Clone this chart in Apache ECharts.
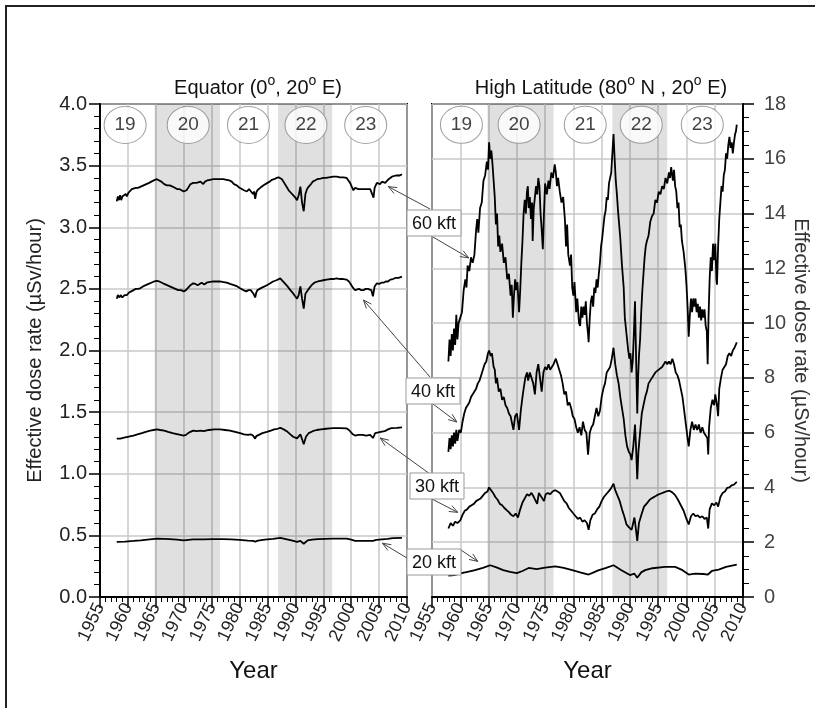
<!DOCTYPE html>
<html><head><meta charset="utf-8">
<script src="https://cdn.jsdelivr.net/npm/echarts@6/dist/echarts.min.js"></script>
<style>html,body{margin:0;padding:0;background:#fff}#c{width:815px;height:708px}</style>
</head><body><div id="c"></div>
<script>
// ---------------- DATA ----------------
const altitudeLabels = ['60 kft', '40 kft', '30 kft', '20 kft'];
const cycleNames = ['19', '20', '21', '22', '23'];
const eqCycleYears = [1959.5, 1970.8, 1981.6, 1991.9, 2002.6];
const hlCycleYears = [1960.2, 1970.4, 1982.1, 1992.0, 2002.8];
const cycleLevel = [3.83, 17.24];
const solarMaxBands = [[1964.8, 1976.5], [1986.9, 1996.6]];

const eq60 = [[1958.0,3.21],[1958.2,3.25],[1958.4,3.22],[1958.6,3.26],[1958.8,3.22],[1959.0,3.25],[1959.3,3.24],[1959.6,3.27],[1959.8,3.25],[1960.1,3.28],[1960.4,3.29],[1960.7,3.31],[1961.0,3.3],[1961.4,3.32],[1961.8,3.32],[1962.3,3.33],[1962.8,3.34],[1963.3,3.35],[1963.8,3.36],[1964.2,3.37],[1964.6,3.38],[1965.2,3.39],[1965.6,3.38],[1966.0,3.37],[1966.5,3.35],[1967.0,3.34],[1967.5,3.34],[1968.0,3.33],[1968.4,3.32],[1968.8,3.31],[1969.2,3.31],[1969.6,3.3],[1970.0,3.29],[1970.2,3.28],[1970.5,3.3],[1970.8,3.32],[1971.2,3.35],[1971.7,3.36],[1972.0,3.35],[1972.3,3.36],[1972.6,3.35],[1973.0,3.37],[1973.3,3.36],[1973.5,3.35],[1973.8,3.37],[1974.2,3.38],[1974.7,3.385],[1975.3,3.39],[1975.9,3.39],[1976.5,3.39],[1977.1,3.39],[1977.7,3.385],[1978.2,3.38],[1978.6,3.37],[1979.0,3.35],[1979.5,3.34],[1980.0,3.32],[1980.4,3.31],[1980.8,3.3],[1981.3,3.29],[1981.7,3.31],[1982.0,3.3],[1982.4,3.27],[1982.6,3.29],[1982.8,3.23],[1983.0,3.28],[1983.2,3.3],[1983.7,3.32],[1984.3,3.34],[1984.6,3.35],[1985.0,3.36],[1985.4,3.37],[1985.8,3.385],[1986.2,3.39],[1986.6,3.4],[1987.0,3.405],[1987.3,3.41],[1987.6,3.39],[1988.0,3.36],[1988.4,3.33],[1988.8,3.3],[1989.2,3.28],[1989.6,3.26],[1990.0,3.24],[1990.3,3.22],[1990.6,3.26],[1990.9,3.33],[1991.2,3.2],[1991.5,3.13],[1991.8,3.27],[1992.1,3.31],[1992.4,3.33],[1992.8,3.35],[1993.1,3.37],[1993.5,3.38],[1993.9,3.39],[1994.5,3.395],[1995.0,3.4],[1995.5,3.4],[1996.0,3.405],[1996.8,3.41],[1997.4,3.41],[1998.0,3.405],[1998.6,3.405],[1999.2,3.4],[1999.5,3.38],[1999.8,3.36],[2000.1,3.33],[2000.4,3.3],[2000.7,3.32],[2001.0,3.32],[2001.3,3.31],[2001.6,3.32],[2001.9,3.31],[2002.2,3.32],[2002.6,3.31],[2003.0,3.31],[2003.4,3.31],[2003.7,3.3],[2004.0,3.24],[2004.2,3.32],[2004.4,3.34],[2004.6,3.36],[2004.9,3.35],[2005.2,3.35],[2005.5,3.37],[2005.8,3.37],[2006.1,3.36],[2006.4,3.37],[2006.7,3.39],[2007.0,3.4],[2007.3,3.41],[2007.6,3.41],[2008.0,3.42],[2008.3,3.42],[2008.7,3.42],[2009.1,3.43]];
const eq40 = [[1958.0,2.42],[1958.2,2.45],[1958.5,2.43],[1958.7,2.45],[1959.0,2.43],[1959.4,2.45],[1959.8,2.45],[1960.2,2.47],[1960.6,2.48],[1961.0,2.49],[1961.4,2.5],[1961.8,2.5],[1962.2,2.505],[1962.7,2.52],[1963.2,2.53],[1963.7,2.54],[1964.2,2.55],[1964.7,2.56],[1965.2,2.565],[1965.6,2.56],[1966.1,2.55],[1966.5,2.54],[1967.0,2.53],[1967.5,2.52],[1968.0,2.51],[1968.5,2.5],[1969.0,2.49],[1969.5,2.49],[1970.0,2.48],[1970.4,2.49],[1970.8,2.51],[1971.2,2.53],[1971.7,2.545],[1972.1,2.54],[1972.5,2.53],[1972.8,2.545],[1973.2,2.55],[1973.7,2.535],[1974.1,2.55],[1974.5,2.555],[1975.3,2.56],[1975.9,2.56],[1976.5,2.56],[1977.1,2.555],[1977.7,2.55],[1978.3,2.54],[1979.0,2.53],[1979.6,2.52],[1980.1,2.505],[1980.7,2.49],[1981.2,2.48],[1981.6,2.49],[1982.0,2.49],[1982.5,2.46],[1982.8,2.43],[1983.0,2.47],[1983.2,2.49],[1983.6,2.5],[1984.0,2.51],[1984.5,2.52],[1984.9,2.53],[1985.5,2.545],[1986.0,2.56],[1986.6,2.57],[1987.3,2.585],[1987.7,2.565],[1988.2,2.54],[1988.6,2.52],[1989.1,2.49],[1989.5,2.47],[1989.8,2.45],[1990.3,2.42],[1990.6,2.45],[1990.9,2.52],[1991.2,2.42],[1991.5,2.34],[1991.8,2.46],[1992.1,2.48],[1992.4,2.5],[1992.9,2.53],[1993.4,2.55],[1994.0,2.56],[1994.5,2.565],[1995.0,2.57],[1995.6,2.575],[1996.2,2.58],[1996.8,2.58],[1997.4,2.585],[1998.0,2.58],[1998.6,2.58],[1999.2,2.575],[1999.6,2.56],[1999.9,2.54],[2000.3,2.51],[2000.7,2.49],[2001.0,2.5],[2001.4,2.5],[2001.8,2.49],[2002.2,2.49],[2002.6,2.5],[2003.0,2.5],[2003.3,2.49],[2003.6,2.49],[2003.9,2.44],[2004.2,2.52],[2004.6,2.545],[2005.0,2.54],[2005.4,2.55],[2005.8,2.55],[2006.2,2.56],[2006.6,2.56],[2007.0,2.575],[2007.5,2.58],[2008.0,2.59],[2008.5,2.59],[2009.1,2.6]];
const eq30 = [[1958.0,1.285],[1958.3,1.295],[1958.6,1.285],[1959.0,1.29],[1959.5,1.295],[1960.0,1.3],[1960.5,1.305],[1961.0,1.31],[1961.7,1.32],[1962.5,1.33],[1963.2,1.34],[1964.0,1.35],[1964.6,1.355],[1965.2,1.36],[1965.8,1.355],[1966.5,1.35],[1967.2,1.34],[1968.0,1.33],[1969.0,1.32],[1970.0,1.31],[1970.4,1.315],[1970.8,1.33],[1971.2,1.34],[1971.7,1.35],[1972.3,1.345],[1973.0,1.35],[1973.6,1.345],[1974.5,1.355],[1975.5,1.36],[1976.5,1.36],[1977.4,1.355],[1978.3,1.35],[1979.2,1.34],[1980.1,1.33],[1980.8,1.32],[1981.5,1.315],[1982.0,1.32],[1982.4,1.31],[1982.8,1.285],[1983.0,1.305],[1983.3,1.32],[1984.1,1.33],[1984.9,1.34],[1985.6,1.35],[1986.2,1.36],[1986.8,1.365],[1987.3,1.373],[1987.9,1.36],[1988.6,1.34],[1989.1,1.32],[1989.6,1.3],[1990.3,1.287],[1990.6,1.3],[1990.9,1.32],[1991.2,1.28],[1991.5,1.24],[1991.9,1.3],[1992.4,1.33],[1993.1,1.345],[1993.8,1.355],[1994.6,1.36],[1995.5,1.365],[1996.2,1.368],[1996.8,1.37],[1998.0,1.37],[1999.2,1.368],[1999.6,1.355],[1999.9,1.34],[2000.3,1.32],[2000.7,1.31],[2001.3,1.315],[2002.0,1.315],[2002.7,1.31],[2003.4,1.315],[2003.9,1.29],[2004.3,1.33],[2004.6,1.34],[2005.3,1.34],[2006.0,1.345],[2006.6,1.36],[2007.2,1.37],[2008.2,1.372],[2009.1,1.376]];
const eq20 = [[1958.0,0.447],[1959.5,0.45],[1961.0,0.455],[1962.3,0.46],[1963.5,0.466],[1965.2,0.474],[1966.4,0.472],[1967.5,0.47],[1968.8,0.465],[1970.0,0.46],[1971.7,0.468],[1973.5,0.468],[1975.3,0.47],[1977.0,0.47],[1978.5,0.468],[1980.0,0.463],[1981.5,0.458],[1982.4,0.456],[1982.8,0.45],[1983.3,0.458],[1984.5,0.465],[1986.0,0.472],[1987.3,0.48],[1988.3,0.47],[1989.3,0.46],[1990.3,0.447],[1990.9,0.455],[1991.5,0.432],[1992.2,0.46],[1993.0,0.466],[1994.0,0.47],[1995.4,0.472],[1996.8,0.474],[1998.0,0.474],[1999.2,0.473],[2000.0,0.465],[2000.7,0.455],[2002.3,0.456],[2003.9,0.455],[2004.5,0.463],[2005.5,0.468],[2006.5,0.472],[2007.5,0.477],[2009.1,0.48]];

const hl60 = [[1957.9,8.6],[1958.1,9.4],[1958.3,8.8],[1958.5,9.6],[1958.7,9.0],[1958.9,9.8],[1959.1,9.2],[1959.3,10.3],[1959.5,9.4],[1959.7,10.0],[1960.0,10.2],[1960.3,10.4],[1960.6,11.2],[1960.9,11.6],[1961.1,11.3],[1961.3,12.1],[1961.6,11.9],[1961.9,12.4],[1962.2,12.2],[1962.5,12.5],[1962.8,13.4],[1963.0,13.8],[1963.2,13.3],[1963.5,14.2],[1963.8,14.4],[1964.1,15.2],[1964.4,15.4],[1964.7,15.9],[1964.9,15.6],[1965.1,16.6],[1965.3,16.0],[1965.5,16.3],[1965.7,15.8],[1965.9,15.2],[1966.1,14.6],[1966.3,13.6],[1966.5,14.0],[1966.7,12.8],[1966.9,13.2],[1967.1,12.6],[1967.4,12.9],[1967.7,12.2],[1968.0,12.4],[1968.3,11.6],[1968.6,11.8],[1968.9,11.0],[1969.1,11.4],[1969.3,10.2],[1969.5,11.0],[1969.7,11.6],[1969.9,11.2],[1970.1,11.5],[1970.4,10.4],[1970.6,11.2],[1970.8,12.2],[1971.0,13.0],[1971.2,14.0],[1971.4,14.5],[1971.6,14.0],[1971.8,14.8],[1971.95,15.0],[1972.1,14.2],[1972.3,14.6],[1972.5,13.8],[1972.7,14.4],[1972.8,13.0],[1973.0,14.2],[1973.2,14.6],[1973.4,15.0],[1973.6,14.7],[1973.8,15.3],[1974.0,15.0],[1974.2,14.0],[1974.4,13.4],[1974.6,12.7],[1974.8,14.0],[1975.0,15.1],[1975.3,14.7],[1975.6,15.2],[1975.8,14.9],[1976.1,15.5],[1976.4,15.3],[1976.7,15.8],[1976.9,15.5],[1977.1,15.0],[1977.3,15.3],[1977.6,14.8],[1977.9,14.4],[1978.2,14.6],[1978.5,13.8],[1978.7,12.8],[1978.9,13.6],[1979.1,12.5],[1979.4,12.1],[1979.6,12.5],[1979.8,11.3],[1980.0,11.0],[1980.2,11.5],[1980.5,10.4],[1980.7,10.9],[1981.0,10.0],[1981.2,9.9],[1981.4,10.6],[1981.6,10.2],[1981.8,10.6],[1982.0,10.3],[1982.2,10.8],[1982.4,10.0],[1982.6,9.6],[1982.7,9.3],[1982.9,10.2],[1983.1,10.8],[1983.3,11.0],[1983.5,10.6],[1983.7,11.3],[1983.9,11.1],[1984.1,11.6],[1984.3,11.3],[1984.5,11.8],[1984.7,12.2],[1984.9,12.8],[1985.1,13.1],[1985.3,13.5],[1985.5,13.9],[1985.7,14.1],[1985.9,14.6],[1986.1,14.5],[1986.3,15.1],[1986.5,15.3],[1986.7,15.5],[1986.9,16.2],[1987.1,16.9],[1987.3,16.0],[1987.5,15.2],[1987.7,14.7],[1987.9,14.1],[1988.1,13.6],[1988.3,13.1],[1988.6,12.1],[1988.9,11.3],[1989.1,10.2],[1989.4,9.6],[1989.7,9.0],[1989.9,8.7],[1990.1,8.9],[1990.3,8.2],[1990.5,8.6],[1990.7,9.6],[1990.9,10.8],[1991.05,9.2],[1991.2,7.6],[1991.3,6.7],[1991.45,8.0],[1991.6,8.8],[1991.8,9.4],[1992.0,10.4],[1992.2,11.2],[1992.4,11.8],[1992.6,12.4],[1992.8,12.8],[1993.0,13.0],[1993.3,13.2],[1993.6,13.7],[1993.9,13.9],[1994.2,14.0],[1994.5,14.5],[1994.8,14.4],[1995.1,14.8],[1995.4,14.7],[1995.7,15.0],[1996.0,14.9],[1996.3,15.3],[1996.6,15.1],[1996.9,15.5],[1997.1,15.3],[1997.3,15.7],[1997.6,15.2],[1997.8,15.6],[1998.0,15.0],[1998.2,14.8],[1998.4,14.2],[1998.6,14.4],[1998.8,13.5],[1999.0,13.6],[1999.2,13.0],[1999.5,12.6],[1999.8,12.0],[2000.0,11.4],[2000.2,10.6],[2000.4,9.5],[2000.6,10.3],[2000.8,10.9],[2001.0,10.4],[2001.2,10.9],[2001.4,10.6],[2001.6,10.9],[2001.8,10.4],[2002.0,10.7],[2002.2,10.2],[2002.4,10.6],[2002.6,10.1],[2002.8,10.5],[2003.0,10.2],[2003.2,10.5],[2003.4,9.9],[2003.6,9.7],[2003.75,8.5],[2003.9,10.2],[2004.1,11.6],[2004.3,12.4],[2004.5,11.9],[2004.7,12.9],[2004.9,12.3],[2005.1,12.9],[2005.3,11.6],[2005.4,11.4],[2005.6,12.8],[2005.8,13.8],[2006.0,14.4],[2006.2,15.0],[2006.4,14.8],[2006.6,15.4],[2006.8,15.6],[2007.0,16.2],[2007.2,16.0],[2007.4,16.5],[2007.6,16.8],[2007.8,16.4],[2008.0,16.6],[2008.2,16.2],[2008.4,16.6],[2008.6,16.9],[2008.75,17.0],[2008.9,17.25]];
const hl40 = [[1957.9,5.3],[1958.1,5.8],[1958.3,5.4],[1958.5,5.9],[1958.7,5.5],[1958.9,6.0],[1959.1,5.6],[1959.3,6.1],[1959.5,5.7],[1959.8,6.1],[1960.1,6.0],[1960.4,6.4],[1960.7,6.7],[1961.0,6.9],[1961.3,7.0],[1961.6,7.1],[1961.9,7.3],[1962.2,7.3],[1962.5,7.5],[1962.8,7.6],[1963.1,7.8],[1963.4,7.9],[1963.7,8.1],[1964.0,8.3],[1964.3,8.5],[1964.6,8.6],[1964.9,8.9],[1965.1,9.0],[1965.4,8.8],[1965.6,8.9],[1965.9,8.4],[1966.1,8.3],[1966.3,7.8],[1966.5,8.0],[1966.8,7.5],[1967.1,7.6],[1967.4,7.2],[1967.7,7.3],[1968.0,7.0],[1968.3,6.9],[1968.6,6.7],[1968.9,6.6],[1969.2,6.3],[1969.4,6.1],[1969.7,6.6],[1970.0,6.7],[1970.2,6.4],[1970.4,6.1],[1970.7,6.8],[1971.0,7.3],[1971.2,7.6],[1971.5,8.0],[1971.8,8.2],[1972.0,7.9],[1972.3,8.2],[1972.6,8.0],[1972.9,7.8],[1973.2,7.4],[1973.5,8.2],[1973.8,8.5],[1974.1,8.0],[1974.4,7.5],[1974.7,8.2],[1975.0,8.4],[1975.3,8.3],[1975.6,8.5],[1975.9,8.3],[1976.2,8.4],[1976.5,8.5],[1976.9,8.7],[1977.2,8.5],[1977.5,8.3],[1977.8,8.1],[1978.1,7.8],[1978.4,7.4],[1978.7,7.5],[1979.0,7.0],[1979.3,7.1],[1979.6,6.9],[1979.9,6.6],[1980.2,6.5],[1980.5,6.2],[1980.8,6.0],[1981.1,6.2],[1981.4,5.9],[1981.7,6.4],[1982.0,6.1],[1982.3,6.0],[1982.6,5.2],[1982.9,6.0],[1983.2,6.2],[1983.5,6.3],[1983.8,6.6],[1984.1,6.9],[1984.4,6.6],[1984.7,6.8],[1985.0,7.3],[1985.3,7.6],[1985.6,7.8],[1985.9,8.2],[1986.2,8.3],[1986.5,8.4],[1986.8,8.7],[1987.1,9.1],[1987.4,8.5],[1987.7,8.1],[1988.0,7.8],[1988.3,7.3],[1988.6,6.9],[1988.9,6.5],[1989.2,5.9],[1989.5,5.5],[1989.8,5.3],[1990.1,5.2],[1990.3,5.0],[1990.6,5.5],[1990.9,6.3],[1991.1,5.4],[1991.3,4.3],[1991.5,5.3],[1991.8,6.0],[1992.1,6.7],[1992.4,7.0],[1992.7,7.3],[1993.0,7.5],[1993.3,7.8],[1993.6,7.9],[1993.9,8.0],[1994.2,8.0],[1994.5,8.2],[1994.8,8.2],[1995.1,8.3],[1995.4,8.3],[1995.7,8.4],[1996.0,8.4],[1996.3,8.6],[1996.6,8.5],[1996.9,8.6],[1997.2,8.5],[1997.5,8.7],[1997.8,8.5],[1998.1,8.2],[1998.4,8.1],[1998.7,7.9],[1999.0,7.6],[1999.3,7.3],[1999.6,6.8],[1999.9,6.3],[2000.2,5.8],[2000.4,5.5],[2000.7,6.1],[2001.0,6.4],[2001.3,6.1],[2001.6,6.3],[2001.9,6.1],[2002.2,6.3],[2002.5,6.0],[2002.8,6.2],[2003.1,6.0],[2003.4,6.0],[2003.7,5.8],[2003.85,5.2],[2004.0,6.2],[2004.3,6.9],[2004.6,7.2],[2004.9,7.0],[2005.1,7.4],[2005.4,7.0],[2005.6,6.6],[2005.8,7.6],[2006.1,8.0],[2006.4,8.3],[2006.7,8.4],[2007.0,8.5],[2007.3,8.8],[2007.6,8.9],[2007.9,8.8],[2008.2,9.0],[2008.5,9.1],[2008.9,9.3]];
const hl30 = [[1957.9,2.5],[1958.3,2.7],[1958.7,2.6],[1959.1,2.75],[1959.5,2.7],[1960.0,2.8],[1960.4,3.0],[1960.8,3.15],[1961.2,3.2],[1961.6,3.3],[1962.0,3.35],[1962.4,3.4],[1962.8,3.5],[1963.2,3.55],[1963.6,3.6],[1964.0,3.7],[1964.4,3.8],[1964.8,3.85],[1965.1,4.0],[1965.4,3.95],[1965.8,3.8],[1966.2,3.65],[1966.6,3.55],[1967.0,3.4],[1967.4,3.35],[1967.8,3.25],[1968.2,3.17],[1968.6,3.1],[1969.0,3.0],[1969.4,2.95],[1969.8,3.05],[1970.2,2.9],[1970.6,3.2],[1971.0,3.45],[1971.4,3.6],[1971.8,3.75],[1972.2,3.7],[1972.6,3.8],[1973.0,3.65],[1973.3,3.7],[1973.6,3.4],[1973.9,3.8],[1974.2,3.85],[1974.5,3.6],[1974.8,3.5],[1975.1,3.75],[1975.5,3.8],[1975.9,3.75],[1976.3,3.85],[1976.8,3.9],[1977.2,3.85],[1977.6,3.8],[1978.0,3.65],[1978.4,3.5],[1978.8,3.42],[1979.2,3.25],[1979.6,3.15],[1980.0,3.05],[1980.4,2.95],[1980.8,2.85],[1981.2,2.9],[1981.6,2.75],[1982.0,2.8],[1982.4,2.7],[1982.7,2.45],[1983.0,2.8],[1983.4,3.0],[1983.8,3.05],[1984.2,3.2],[1984.6,3.3],[1985.0,3.5],[1985.4,3.65],[1985.8,3.75],[1986.2,3.85],[1986.6,3.95],[1987.1,4.14],[1987.4,3.9],[1987.8,3.7],[1988.2,3.5],[1988.6,3.2],[1989.0,2.95],[1989.4,2.65],[1989.8,2.55],[1990.3,2.45],[1990.8,2.9],[1991.05,2.5],[1991.3,2.05],[1991.6,2.7],[1992.1,3.05],[1992.5,3.3],[1993.0,3.42],[1993.5,3.55],[1994.0,3.62],[1994.5,3.68],[1995.0,3.74],[1995.5,3.78],[1996.0,3.82],[1996.5,3.86],[1997.0,3.88],[1997.5,3.82],[1998.0,3.72],[1998.5,3.55],[1999.0,3.35],[1999.5,3.15],[2000.0,2.85],[2000.4,2.65],[2000.8,2.95],[2001.2,3.05],[2001.6,2.95],[2002.0,2.98],[2002.4,2.9],[2002.8,2.95],[2003.2,2.85],[2003.6,2.9],[2003.85,2.5],[2004.1,3.2],[2004.5,3.42],[2004.9,3.35],[2005.3,3.45],[2005.6,3.3],[2006.0,3.65],[2006.4,3.8],[2006.8,3.85],[2007.2,3.98],[2007.6,4.0],[2008.0,4.08],[2008.4,4.1],[2008.9,4.2]];
const hl20 = [[1957.9,0.78],[1959.0,0.8],[1960.0,0.86],[1961.3,0.92],[1962.6,0.98],[1964.0,1.06],[1965.3,1.16],[1966.4,1.08],[1967.6,0.98],[1968.8,0.92],[1970.0,0.87],[1971.0,0.95],[1972.1,1.06],[1973.5,1.02],[1975.0,1.07],[1976.8,1.12],[1978.3,1.06],[1979.8,0.98],[1981.2,0.9],[1982.7,0.82],[1983.6,0.9],[1984.4,0.97],[1985.8,1.06],[1987.1,1.16],[1988.5,0.98],[1990.0,0.8],[1990.8,0.85],[1991.3,0.7],[1992.0,0.9],[1992.7,0.98],[1994.0,1.05],[1996.2,1.1],[1998.0,1.1],[1999.3,0.98],[2000.4,0.82],[2001.5,0.85],[2003.0,0.84],[2003.8,0.82],[2004.5,0.95],[2005.7,1.0],[2007.0,1.1],[2008.9,1.18]];

// annotation arrow tips (data coordinates)
const eqArrowTips = [[2006.65,3.33],[2002.2,2.41],[2005.2,1.29],[2005.6,0.436]];
const hlArrowTips = [[1961.5,12.38],[1959.4,6.39],[1959.55,3.09],[1963.1,1.3]];

// ---------------- LAYOUT ----------------
const FONT = '"Liberation Sans", Arial, sans-serif';
const boxCenters = [[434,223],[433,391],[437,486],[434,562]];
const leftArrowStarts = [[430,209],[430,377],[430,474],[407,558]];
const rightArrowStarts = [[433,237],[433,404],[432,499],[461,550]];

const chart = echarts.init(document.getElementById('c'));

function xAxisCfg(gi) {
  return {
    gridIndex: gi, type: 'value', min: 1955, max: 2010, interval: 5,
    name: 'Year', nameLocation: 'middle', nameGap: 62,
    nameTextStyle: { fontSize: 24, color: '#111', fontFamily: FONT },
    axisLine: { show: true, onZero: false, lineStyle: { color: '#000', width: 2 } },
    axisTick: { show: true, length: 11, lineStyle: { color: '#000', width: 1.5 } },
    minorTick: { show: true, splitNumber: 5, length: 5, lineStyle: { color: '#000', width: 1 } },
    axisLabel: { rotate: 65, fontSize: 18, color: '#222', fontFamily: FONT, margin: 7,
      showMinLabel: true, showMaxLabel: true, formatter: v => String(v) },
    splitLine: { show: true, lineStyle: { color: '#c8c8c8', width: 1.5 } }
  };
}
const nameText = 'Effective dose rate (\u00b5Sv/hour)';
const yAxes = [
  { gridIndex: 0, type: 'value', min: 0, max: 4, interval: 0.5, position: 'left',
    name: nameText, nameLocation: 'middle', nameGap: 55, nameRotate: 90,
    nameTextStyle: { fontSize: 20, color: '#222', fontFamily: FONT },
    axisLine: { show: true, lineStyle: { color: '#000', width: 2 } },
    axisTick: { show: true, length: 11, lineStyle: { color: '#000', width: 1.5 } },
    minorTick: { show: true, splitNumber: 5, length: 6, lineStyle: { color: '#000', width: 1 } },
    axisLabel: { fontSize: 20, color: '#222', fontFamily: FONT, margin: 13, formatter: v => v.toFixed(1) },
    splitLine: { show: true, lineStyle: { color: '#c8c8c8', width: 1.5 } } },
  { gridIndex: 1, type: 'value', min: 0, max: 18, interval: 2, position: 'right',
    name: nameText, nameLocation: 'middle', nameGap: 45, nameRotate: -90,
    nameTextStyle: { fontSize: 20, color: '#333', fontFamily: FONT },
    axisLine: { show: true, lineStyle: { color: '#000', width: 2 } },
    axisTick: { show: true, length: 11, lineStyle: { color: '#000', width: 1.5 } },
    minorTick: { show: true, splitNumber: 4, length: 6, lineStyle: { color: '#000', width: 1 } },
    axisLabel: { fontSize: 20, color: '#444', fontFamily: FONT, margin: 21 },
    splitLine: { show: true, lineStyle: { color: '#c8c8c8', width: 1.5 } } }
];

function lineSeries(data, gi, withBands) {
  const s = { type: 'line', data: data, xAxisIndex: gi, yAxisIndex: gi, showSymbol: false, symbol: 'none',
    lineStyle: { color: '#000', width: 1.8 }, z: 3, silent: true };
  if (withBands) {
    s.markArea = { silent: true, itemStyle: { color: 'rgba(0,0,0,0.12)' },
      data: solarMaxBands.map(b => [{ xAxis: b[0] }, { xAxis: b[1] }]) };
  }
  return s;
}
function cycleSeries(years, gi) {
  return { type: 'scatter', xAxisIndex: gi, yAxisIndex: gi, symbol: 'circle', symbolSize: [42, 37],
    data: years.map((y, i) => ({ value: [y, cycleLevel[gi]], name: cycleNames[i] })),
    itemStyle: { color: '#fff', borderColor: '#888', borderWidth: 1 },
    label: { show: true, position: 'inside', formatter: p => p.name, fontSize: 19, color: '#111', fontFamily: FONT },
    z: 6, silent: true, clip: false };
}

const supRich = {
  m: { fontSize: 20, lineHeight: 24, verticalAlign: 'bottom', fontFamily: FONT, color: '#111' },
  s: { fontSize: 14, lineHeight: 8, verticalAlign: 'top', fontFamily: FONT, color: '#111' }
};
chart.setOption({
  animation: false,
  backgroundColor: '#fff',
  title: [
    { text: '{m|Equator (0}{s|o}{m|, 20}{s|o}{m| E)}', left: 253, top: 69, textAlign: 'center',
      textStyle: { fontSize: 20, fontWeight: 'normal', color: '#111', fontFamily: FONT, rich: supRich } },
    { text: '{m|High Latitude (80}{s|o}{m| N , 20}{s|o}{m| E)}', left: 596, top: 69, textAlign: 'center',
      textStyle: { fontSize: 20, fontWeight: 'normal', color: '#111', fontFamily: FONT, rich: supRich } }
  ],
  grid: [
    { left: 100, top: 104, width: 307, height: 493, show: true, borderColor: '#000', borderWidth: 2, containLabel: false },
    { left: 432, top: 104, width: 311, height: 493, show: true, borderColor: '#000', borderWidth: 2, containLabel: false }
  ],
  xAxis: [xAxisCfg(0), xAxisCfg(1)],
  yAxis: yAxes,
  series: [
    lineSeries(eq60, 0, true), lineSeries(eq40, 0), lineSeries(eq30, 0), lineSeries(eq20, 0),
    lineSeries(hl60, 1, true), lineSeries(hl40, 1), lineSeries(hl30, 1), lineSeries(hl20, 1),
    cycleSeries(eqCycleYears, 0), cycleSeries(hlCycleYears, 1)
  ]
});

function arrow(p0, p1) {
  const a = Math.atan2(p1[1] - p0[1], p1[0] - p0[0]);
  const L = 9, w = 0.38;
  const h1 = [p1[0] - L * Math.cos(a - w), p1[1] - L * Math.sin(a - w)];
  const h2 = [p1[0] - L * Math.cos(a + w), p1[1] - L * Math.sin(a + w)];
  return [
    { type: 'line', shape: { x1: p0[0], y1: p0[1], x2: p1[0], y2: p1[1] }, style: { stroke: '#444', lineWidth: 1 }, z: 20 },
    { type: 'polyline', shape: { points: [h1, p1, h2] }, style: { stroke: '#444', lineWidth: 1, fill: null }, z: 20 }
  ];
}
const g = [];
g.push({ type: 'rect', shape: { x: 6, y: 6, width: 900, height: 900 }, style: { stroke: '#222', lineWidth: 2, fill: null }, z: 30 });
altitudeLabels.forEach((lab, i) => {
  const tipL = chart.convertToPixel({ xAxisIndex: 0, yAxisIndex: 0 }, eqArrowTips[i]);
  const tipR = chart.convertToPixel({ xAxisIndex: 1, yAxisIndex: 1 }, hlArrowTips[i]);
  g.push(...arrow(leftArrowStarts[i], tipL));
  g.push(...arrow(rightArrowStarts[i], tipR));
  const c = boxCenters[i];
  g.push({ type: 'rect', shape: { x: c[0] - 27, y: c[1] - 13, width: 54, height: 26 },
    style: { fill: '#fff', stroke: '#999', lineWidth: 1 }, z: 25 });
  g.push({ type: 'text', x: c[0], y: c[1] + 1, style: { text: lab, fontSize: 18, fontFamily: FONT, fill: '#111',
    align: 'center', verticalAlign: 'middle' }, z: 26 });
});
chart.setOption({ graphic: g });
</script></body></html>
